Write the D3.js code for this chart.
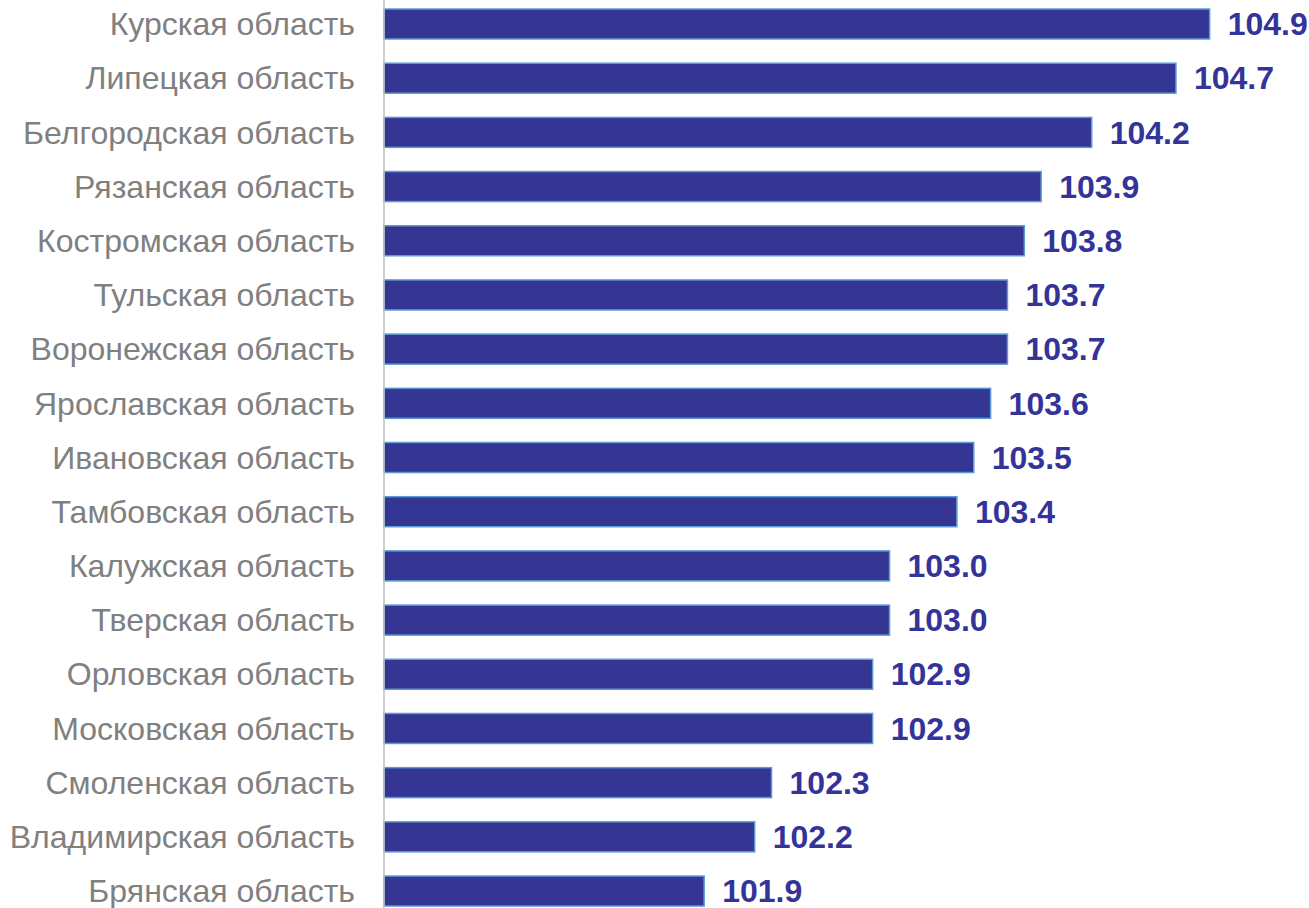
<!DOCTYPE html>
<html>
<head>
    <meta charset="utf-8">
    <title></title>
    <style>
        body { margin: 0; background: white; }
        svg { display: block; }
    </style>
</head>
<body>
    <script src="https://cdnjs.cloudflare.com/ajax/libs/d3/7.8.5/d3.min.js"></script>
    <script>

var regions = [
    "Курская область",
    "Липецкая область",
    "Белгородская область",
    "Рязанская область",
    "Костромская область",
    "Тульская область",
    "Воронежская область",
    "Ярославская область",
    "Ивановская область",
    "Тамбовская область",
    "Калужская область",
    "Тверская область",
    "Орловская область",
    "Московская область",
    "Смоленская область",
    "Владимирская область",
    "Брянская область"
];
var values = [104.9, 104.7, 104.2, 103.9, 103.8, 103.7, 103.7, 103.6, 103.5, 103.4,
              103.0, 103.0, 102.9, 102.9, 102.3, 102.2, 101.9];
var baseValue = 100;

var config = {
    width: 1309,
    height: 908,
    axisX: 384,
    pxPerUnit: 168.5,
    firstCenter: 24,
    step: 54.19,
    barHeight: 30
};

var data = regions.map(function (r, i) { return { region: r, value: values[i] }; });

var svg = d3.select("body").append("svg")
    .attr("width", config.width)
    .attr("height", config.height);

var x = d3.scaleLinear()
    .domain([baseValue, baseValue + 1])
    .range([config.axisX, config.axisX + config.pxPerUnit]);

var bandStep = config.step;
var y = d3.scaleBand()
    .domain(regions)
    .range([config.firstCenter - bandStep / 2, config.firstCenter - bandStep / 2 + bandStep * regions.length])
    .paddingInner(1 - config.barHeight / bandStep)
    .paddingOuter((1 - config.barHeight / bandStep) / 2);

// bars
svg.selectAll("rect.bar").data(data).enter().append("rect")
    .attr("class", "bar")
    .attr("x", x(baseValue))
    .attr("y", function (d) { return y(d.region); })
    .attr("width", function (d) { return x(d.value) - x(baseValue); })
    .attr("height", y.bandwidth())
    .attr("fill", "#353594")
    .attr("stroke", "#5b9bd5")
    .attr("stroke-width", 1.5);

// axis line
svg.append("line")
    .attr("x1", config.axisX).attr("x2", config.axisX)
    .attr("y1", 0).attr("y2", config.height)
    .attr("stroke", "#bfbfbf")
    .attr("stroke-width", 1.5);

// category labels
svg.selectAll("text.cat").data(data).enter().append("text")
    .attr("class", "cat")
    .attr("x", 355)
    .attr("y", function (d) { return y(d.region) + y.bandwidth() / 2; })
    .attr("dy", "0.35em")
    .attr("text-anchor", "end")
    .attr("font-family", "Liberation Sans, Arial, sans-serif")
    .attr("font-size", 32)
    .attr("fill", "#808080")
    .text(function (d) { return d.region; });

// value labels
svg.selectAll("text.val").data(data).enter().append("text")
    .attr("class", "val")
    .attr("x", function (d) { return x(d.value) + 18; })
    .attr("y", function (d) { return y(d.region) + y.bandwidth() / 2; })
    .attr("dy", "0.35em")
    .attr("font-family", "Liberation Sans, Arial, sans-serif")
    .attr("font-weight", "bold")
    .attr("font-size", 32)
    .attr("fill", "#333399")
    .text(function (d) { return d.value.toFixed(1); });

    </script>
</body>
</html>
